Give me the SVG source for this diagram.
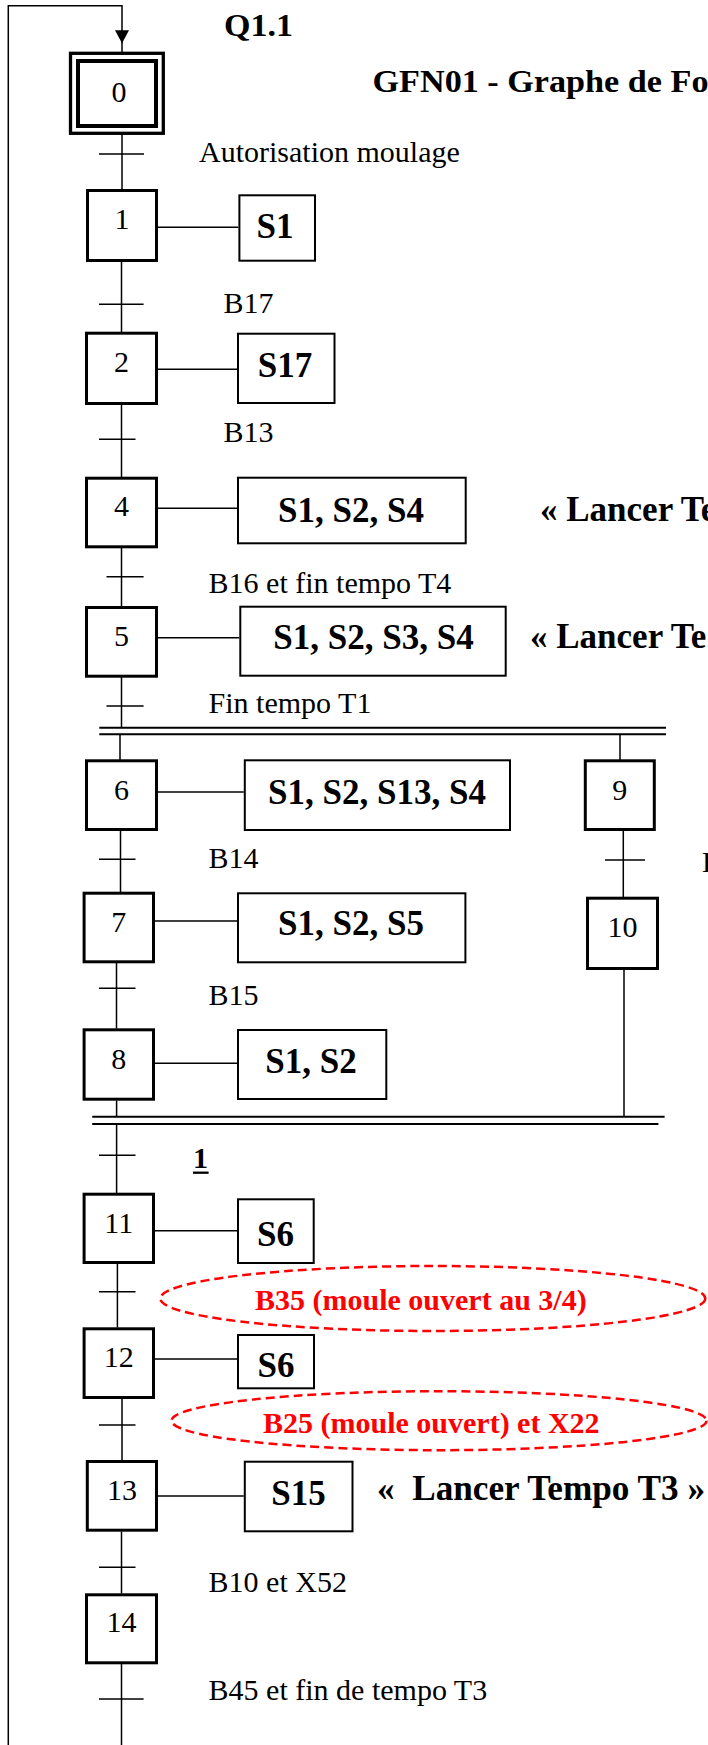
<svg xmlns="http://www.w3.org/2000/svg" width="708" height="1745" viewBox="0 0 708 1745">
<style>
.step{fill:#fff;stroke:#000;stroke-width:3}
.act{fill:#fff;stroke:#000;stroke-width:2}
.ln{stroke:#000;stroke-width:1.5;fill:none}
.bar{stroke:#000;stroke-width:2;fill:none}
.num{font-family:"Liberation Serif","Times New Roman",serif;font-size:30px;text-anchor:middle}
.lbl{font-family:"Liberation Serif","Times New Roman",serif;font-size:30px}
.at{font-family:"Liberation Serif","Times New Roman",serif;font-size:35px;font-weight:bold;text-anchor:middle}
.bt{font-family:"Liberation Serif","Times New Roman",serif;font-weight:bold}
.red{font-family:"Liberation Serif","Times New Roman",serif;font-size:30px;font-weight:bold;fill:#f00}
.ell{fill:none;stroke:#f00;stroke-width:2.5;stroke-dasharray:9 5}
</style>
<defs>
<marker id="arr" viewBox="0 0 13 14" refX="13" refY="7" markerWidth="13" markerHeight="14" markerUnits="userSpaceOnUse" orient="auto">
<path d="M0,0 L13,7 L0,14 z" fill="#000"/>
</marker>
</defs>
<rect width="708" height="1745" fill="#fff"/>

<g id="connectors">
<path class="ln" d="M8.3 1745 V5.7 H122 V43.3" marker-end="url(#arr)"/>
<line class="ln" x1="122" y1="43" x2="122" y2="52"/>
<!-- 0-1 -->
<line class="ln" x1="122" y1="134" x2="122" y2="189"/>
<line class="ln" x1="99" y1="154" x2="144" y2="154"/>
<!-- 1-2 -->
<line class="ln" x1="121.5" y1="262" x2="121.5" y2="332"/>
<line class="ln" x1="99" y1="304.3" x2="143.6" y2="304.3"/>
<!-- 2-4 -->
<line class="ln" x1="121.5" y1="405" x2="121.5" y2="477"/>
<line class="ln" x1="99" y1="439.3" x2="135.5" y2="439.3"/>
<!-- 4-5 -->
<line class="ln" x1="121.5" y1="548" x2="121.5" y2="606"/>
<line class="ln" x1="106.5" y1="576.7" x2="143.6" y2="576.7"/>
<!-- 5-bar -->
<line class="ln" x1="121.5" y1="677" x2="121.5" y2="727.7"/>
<line class="ln" x1="106.5" y1="706" x2="143.6" y2="706"/>
<!-- top double bar -->
<line class="bar" x1="99.3" y1="727.7" x2="666" y2="727.7"/>
<line class="bar" x1="99.3" y1="734.3" x2="666" y2="734.3"/>
<line class="ln" x1="120" y1="734.3" x2="120" y2="760"/>
<line class="ln" x1="620" y1="734.3" x2="620" y2="760"/>
<!-- 6-7 -->
<line class="ln" x1="120.5" y1="831" x2="120.5" y2="892"/>
<line class="ln" x1="99" y1="859.3" x2="135.5" y2="859.3"/>
<!-- 9-10 -->
<line class="ln" x1="623.3" y1="831" x2="623.3" y2="897"/>
<line class="ln" x1="605" y1="860" x2="645" y2="860"/>
<!-- 7-8 -->
<line class="ln" x1="116.5" y1="963" x2="116.5" y2="1028.5"/>
<line class="ln" x1="99" y1="988.3" x2="135.5" y2="988.3"/>
<!-- 10-bar -->
<line class="ln" x1="624" y1="970" x2="624" y2="1116.7"/>
<!-- 8-bar -->
<line class="ln" x1="116.6" y1="1100.5" x2="116.6" y2="1116.7"/>
<!-- bottom double bar -->
<line class="bar" x1="92.2" y1="1116.7" x2="664.6" y2="1116.7"/>
<line class="bar" x1="92.2" y1="1124" x2="658.4" y2="1124"/>
<!-- bar-11 -->
<line class="ln" x1="116.6" y1="1124" x2="116.6" y2="1193"/>
<line class="ln" x1="99" y1="1155.3" x2="135.5" y2="1155.3"/>
<!-- 11-12 -->
<line class="ln" x1="117.4" y1="1264" x2="117.4" y2="1327.5"/>
<line class="ln" x1="99" y1="1291.7" x2="135.5" y2="1291.7"/>
<!-- 12-13 -->
<line class="ln" x1="122" y1="1399" x2="122" y2="1460"/>
<line class="ln" x1="99" y1="1425" x2="135.5" y2="1425"/>
<!-- 13-14 -->
<line class="ln" x1="121.5" y1="1531.5" x2="121.5" y2="1593.5"/>
<line class="ln" x1="99" y1="1567.3" x2="135.5" y2="1567.3"/>
<!-- 14-end -->
<line class="ln" x1="121.5" y1="1664" x2="121.5" y2="1745"/>
<line class="ln" x1="99" y1="1699" x2="143.6" y2="1699"/>
<!-- action links -->
<line class="ln" x1="158" y1="227.3" x2="238.4" y2="227.3"/>
<line class="ln" x1="158" y1="369.3" x2="237" y2="369.3"/>
<line class="ln" x1="158" y1="508.3" x2="237" y2="508.3"/>
<line class="ln" x1="158" y1="637.7" x2="239.3" y2="637.7"/>
<line class="ln" x1="158" y1="792" x2="243.8" y2="792"/>
<line class="ln" x1="155" y1="921" x2="237" y2="921"/>
<line class="ln" x1="155" y1="1063.3" x2="237" y2="1063.3"/>
<line class="ln" x1="155" y1="1230.7" x2="237" y2="1230.7"/>
<line class="ln" x1="155" y1="1359" x2="237" y2="1359"/>
<line class="ln" x1="158" y1="1496" x2="243.8" y2="1496"/>
</g>

<g id="titles">
<text class="bt" x="224" y="36" font-size="32" textLength="69" lengthAdjust="spacingAndGlyphs">Q1.1</text>
<text class="bt" x="372.5" y="91.7" font-size="32" textLength="336" lengthAdjust="spacingAndGlyphs">GFN01 - Graphe de Fo</text>
</g>

<g id="step0">
<rect x="70.5" y="53.3" width="92.8" height="80" fill="#fff" stroke="#000" stroke-width="3.3"/>
<rect x="78" y="61" width="78" height="65" fill="none" stroke="#000" stroke-width="4"/>
<text class="num" x="119" y="102" font-size="32">0</text>
</g>
<g id="t0"><text class="lbl" x="199" y="162">Autorisation moulage</text></g>

<g id="step1">
<rect class="step" x="87.5" y="190.5" width="69" height="70"/>
<text class="num" x="122" y="229">1</text>
<rect class="act" x="239.4" y="195.3" width="75.6" height="65.4"/>
<text class="at" x="275" y="238">S1</text>
</g>
<g id="t1"><text class="lbl" x="223.5" y="313.3">B17</text></g>

<g id="step2">
<rect class="step" x="86.5" y="333.2" width="70" height="70.3"/>
<text class="num" x="121.5" y="372">2</text>
<rect class="act" x="238" y="333.7" width="96.5" height="69.3"/>
<text class="at" x="285" y="377">S17</text>
</g>
<g id="t2"><text class="lbl" x="223.5" y="441.7">B13</text></g>

<g id="step4">
<rect class="step" x="86.5" y="478.2" width="70" height="68.6"/>
<text class="num" x="121.5" y="516">4</text>
<rect class="act" x="238" y="477.7" width="227.7" height="65.6"/>
<text class="at" x="351" y="521.7">S1, S2, S4</text>
<text class="bt" x="540" y="521" font-size="35">« Lancer Te</text>
</g>
<g id="t4"><text class="lbl" x="208.6" y="593.3">B16 et fin tempo T4</text></g>

<g id="step5">
<rect class="step" x="86.5" y="607.5" width="70" height="68.7"/>
<text class="num" x="121.5" y="646">5</text>
<rect class="act" x="240.3" y="606.7" width="265.4" height="69"/>
<text class="at" x="373.5" y="648.5">S1, S2, S3, S4</text>
<text class="bt" x="530" y="648.3" font-size="35">« Lancer Te</text>
</g>
<g id="t5"><text class="lbl" x="208.6" y="713.3">Fin tempo T1</text></g>

<g id="step6">
<rect class="step" x="86.5" y="760.8" width="70" height="68.7"/>
<text class="num" x="121.5" y="800">6</text>
<rect class="act" x="244.8" y="760.3" width="265.2" height="69.7"/>
<text class="at" x="377" y="803.5">S1, S2, S13, S4</text>
</g>
<g id="t6"><text class="lbl" x="208.6" y="868.3">B14</text></g>

<g id="step9">
<rect class="step" x="585.3" y="760.8" width="69" height="68.7"/>
<text class="num" x="619.8" y="800">9</text>
</g>
<g id="t9"><text class="lbl" x="702" y="871.7">B</text></g>

<g id="step7">
<rect class="step" x="84.1" y="893.2" width="69.4" height="68.6"/>
<text class="num" x="118.8" y="932">7</text>
<rect class="act" x="238" y="893.3" width="227.4" height="69"/>
<text class="at" x="351" y="935">S1, S2, S5</text>
</g>
<g id="t7"><text class="lbl" x="208.6" y="1005">B15</text></g>

<g id="step10">
<rect class="step" x="587.5" y="898.2" width="70" height="70.3"/>
<text class="num" x="622.5" y="937">10</text>
</g>

<g id="step8">
<rect class="step" x="84.1" y="1029.8" width="69.4" height="69.4"/>
<text class="num" x="118.8" y="1068.5">8</text>
<rect class="act" x="238" y="1030" width="148.3" height="69"/>
<text class="at" x="311" y="1072.7">S1, S2</text>
</g>
<g id="t8">
<text class="bt" x="193" y="1168.3" font-size="30">1</text>
<line x1="193" y1="1172.7" x2="208.6" y2="1172.7" stroke="#000" stroke-width="2.3"/>
</g>

<g id="step11">
<rect class="step" x="84.1" y="1194.2" width="69.4" height="68.3"/>
<text class="num" x="118.8" y="1232.5">11</text>
<rect class="act" x="238" y="1199.3" width="75.7" height="63.7"/>
<text class="at" x="275.5" y="1246">S6</text>
</g>
<g id="t11">
<ellipse class="ell" cx="432.8" cy="1298.5" rx="272.5" ry="32.5"/>
<text class="red" x="255" y="1310">B35 (moule ouvert au 3/4)</text>
</g>

<g id="step12">
<rect class="step" x="84.1" y="1328.8" width="69.4" height="68.7"/>
<text class="num" x="118.8" y="1366.5">12</text>
<rect class="act" x="238" y="1335" width="76" height="53.3"/>
<text class="at" x="276" y="1376.7">S6</text>
</g>
<g id="t12">
<ellipse class="ell" cx="439" cy="1420.7" rx="267.5" ry="29.5"/>
<text class="red" x="263" y="1433.3">B25 (moule ouvert) et X22</text>
</g>

<g id="step13">
<rect class="step" x="87.3" y="1461.5" width="69.2" height="68.7"/>
<text class="num" x="122" y="1500">13</text>
<rect class="act" x="244.8" y="1461.7" width="107.7" height="69.6"/>
<text class="at" x="298.5" y="1505">S15</text>
<text class="bt" x="377" y="1500" font-size="35" textLength="328" lengthAdjust="spacingAndGlyphs">«&#160; Lancer Tempo T3 »</text>
</g>
<g id="t13"><text class="lbl" x="208.6" y="1591.7">B10 et X52</text></g>

<g id="step14">
<rect class="step" x="86.5" y="1594.8" width="70" height="68"/>
<text class="num" x="121.5" y="1632">14</text>
</g>
<g id="t14"><text class="lbl" x="208.6" y="1700">B45 et fin de tempo T3</text></g>
</svg>
